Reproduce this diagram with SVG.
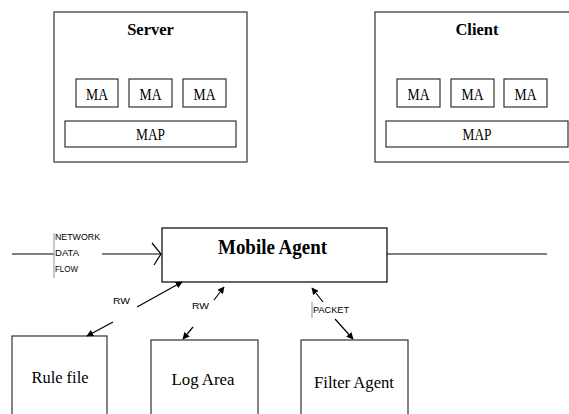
<svg xmlns="http://www.w3.org/2000/svg" width="569" height="414" viewBox="0 0 569 414">
<style>
.box{fill:#fff;stroke:#333;stroke-width:1.2}
.ttl{font-family:"Liberation Serif",serif;font-weight:bold;font-size:16.5px;text-anchor:middle;fill:#000}
.ma{font-family:"Liberation Serif",serif;font-size:17px;text-anchor:middle;fill:#000}
.big{font-family:"Liberation Serif",serif;font-size:17.5px;text-anchor:middle;fill:#000}
.sm{font-family:"Liberation Sans",sans-serif;font-size:9.3px;fill:#000}
.ln{stroke:#000;stroke-width:1.2;fill:none}
</style>
<defs>
<marker id="ah" viewBox="0 0 10 10" refX="9" refY="5" markerWidth="7" markerHeight="7" markerUnits="userSpaceOnUse" orient="auto">
<path d="M0,0 L10,5 L0,10 z" fill="#000"/>
</marker>
</defs>
<rect width="569" height="414" fill="#fff"/>
<g id="server">
<rect class="box" x="54" y="12" width="193" height="150"/>
<text class="ttl" x="150.5" y="35">Server</text>
<rect class="box" x="76" y="79" width="42" height="28"/>
<text class="ma" x="97" y="100" textLength="22" lengthAdjust="spacingAndGlyphs">MA</text>
<rect class="box" x="129" y="79" width="43" height="28"/>
<text class="ma" x="150.5" y="100" textLength="22" lengthAdjust="spacingAndGlyphs">MA</text>
<rect class="box" x="183" y="79" width="43" height="28"/>
<text class="ma" x="204.5" y="100" textLength="22" lengthAdjust="spacingAndGlyphs">MA</text>
<rect class="box" x="65" y="121" width="171" height="26"/>
<text class="ma" x="150.5" y="140" textLength="29" lengthAdjust="spacingAndGlyphs">MAP</text>
</g>
<g id="client">
<rect class="box" x="375" y="12" width="200" height="150"/>
<text class="ttl" x="477" y="35">Client</text>
<rect class="box" x="397" y="79" width="43" height="28"/>
<text class="ma" x="418.5" y="100" textLength="22" lengthAdjust="spacingAndGlyphs">MA</text>
<rect class="box" x="451" y="79" width="43" height="28"/>
<text class="ma" x="472.5" y="100" textLength="22" lengthAdjust="spacingAndGlyphs">MA</text>
<rect class="box" x="504" y="79" width="43" height="28"/>
<text class="ma" x="525.5" y="100" textLength="22" lengthAdjust="spacingAndGlyphs">MA</text>
<rect class="box" x="386" y="121" width="182" height="26"/>
<text class="ma" x="477" y="140" textLength="29" lengthAdjust="spacingAndGlyphs">MAP</text>
</g>
<g id="mobile-agent">
<rect class="box" x="162" y="228" width="225" height="54" style="stroke:#000"/>
<text class="ttl" x="272.5" y="254" style="font-size:21px" textLength="109" lengthAdjust="spacingAndGlyphs">Mobile Agent</text>
</g>
<g id="rule-file">
<rect class="box" x="12" y="336" width="95" height="80"/>
<text class="big" x="60" y="383" textLength="57" lengthAdjust="spacingAndGlyphs">Rule file</text>
</g>
<g id="log-area">
<rect class="box" x="151" y="340" width="107" height="80"/>
<text class="big" x="203" y="385" textLength="63" lengthAdjust="spacingAndGlyphs">Log Area</text>
</g>
<g id="filter-agent">
<rect class="box" x="301" y="340" width="107" height="80"/>
<text class="big" x="354" y="388" textLength="80" lengthAdjust="spacingAndGlyphs">Filter Agent</text>
</g>
<g id="connectors">
<line class="ln" x1="12" y1="254" x2="54" y2="254"/>
<line class="ln" x1="102" y1="254" x2="161" y2="254"/>
<polyline class="ln" points="152,243 161,254 154,265"/>
<line class="ln" x1="387" y1="254" x2="547" y2="254"/>
<line x1="54" y1="233" x2="54" y2="278" stroke="#8a93b0" stroke-width="1"/>
<line class="ln" x1="137" y1="307" x2="182" y2="282" marker-end="url(#ah)"/>
<line class="ln" x1="113" y1="322" x2="87" y2="336" marker-end="url(#ah)"/>
<line class="ln" x1="214" y1="300" x2="224" y2="287" marker-end="url(#ah)"/>
<line class="ln" x1="193" y1="327" x2="183" y2="339" marker-end="url(#ah)"/>
<line class="ln" x1="323" y1="302" x2="312" y2="288" marker-end="url(#ah)"/>
<line class="ln" x1="335" y1="319" x2="353" y2="339" marker-end="url(#ah)"/>
<line x1="312" y1="302" x2="312" y2="318" stroke="#8a93b0" stroke-width="1"/>
<text class="sm" x="55" y="240" textLength="45" lengthAdjust="spacingAndGlyphs">NETWORK</text>
<text class="sm" x="55" y="256" textLength="24" lengthAdjust="spacingAndGlyphs">DATA</text>
<text class="sm" x="55" y="272" textLength="23" lengthAdjust="spacingAndGlyphs">FLOW</text>
<text class="sm" x="113" y="304" textLength="17" lengthAdjust="spacingAndGlyphs">RW</text>
<text class="sm" x="192" y="309" textLength="17" lengthAdjust="spacingAndGlyphs">RW</text>
<text class="sm" x="313" y="313" textLength="36" lengthAdjust="spacingAndGlyphs">PACKET</text>
</g>
</svg>
